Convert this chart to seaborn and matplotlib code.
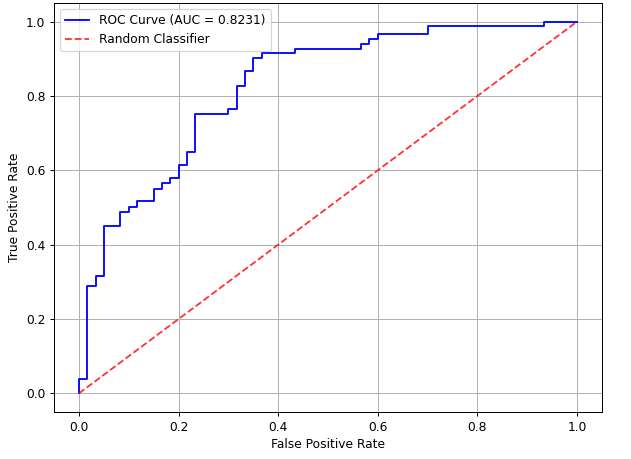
"""
ROC curve of a binary classifier against the random-guess diagonal.
"""

import numpy as np
import pandas as pd
import seaborn as sns
import matplotlib.pyplot as plt

# ROC corner points
fpr = [0.0, 0.0, 0.0167, 0.0167, 0.0333, 0.0333, 0.05, 0.05, 0.0833, 0.0833,
       0.1, 0.1, 0.1167, 0.1167, 0.15, 0.15, 0.1667, 0.1667, 0.1833, 0.1833,
       0.2, 0.2, 0.2167, 0.2167, 0.2333, 0.2333, 0.3, 0.3, 0.3167, 0.3167,
       0.3333, 0.3333, 0.35, 0.35, 0.3667, 0.3667, 0.4333, 0.4333, 0.5667, 0.5667,
       0.5833, 0.5833, 0.6, 0.6, 0.7, 0.7, 0.9333, 0.9333, 1.0]
tpr = [0.0, 0.04, 0.04, 0.29, 0.29, 0.3167, 0.3167, 0.45, 0.45, 0.4889,
       0.4889, 0.5022, 0.5022, 0.5167, 0.5167, 0.55, 0.55, 0.5655, 0.5655, 0.578,
       0.578, 0.615, 0.615, 0.65, 0.65, 0.751, 0.751, 0.765, 0.765, 0.827,
       0.827, 0.866, 0.866, 0.901, 0.901, 0.915, 0.915, 0.927, 0.927, 0.94,
       0.94, 0.952, 0.952, 0.966, 0.966, 0.989, 0.989, 1.0, 1.0]
auc_value = 0.8231

diag = [0.0, 1.0]

roc = pd.DataFrame({'fpr': fpr, 'tpr': tpr})

dpi = 88
fig, ax = plt.subplots(figsize=(631/dpi, 459/dpi), dpi=dpi)
fig.subplots_adjust(left=0.0856, right=0.954, top=0.9935, bottom=0.1024)

sns.lineplot(data=roc, x='fpr', y='tpr', estimator=None, sort=False,
             color='blue', linewidth=1.5, ax=ax,
             label='ROC Curve (AUC = {0:.4f})'.format(auc_value))
sns.lineplot(x=diag, y=diag, color='red', linestyle='--', alpha=0.8,
             linewidth=1.5, ax=ax, label='Random Classifier')

ax.set_xlabel('False Positive Rate')
ax.set_ylabel('True Positive Rate')
ax.set_xticks(np.arange(0, 1.01, 0.2))
ax.set_yticks(np.arange(0, 1.01, 0.2))
ax.grid(True)
ax.legend(loc='upper left')

fig.savefig('out.png', dpi=dpi)
